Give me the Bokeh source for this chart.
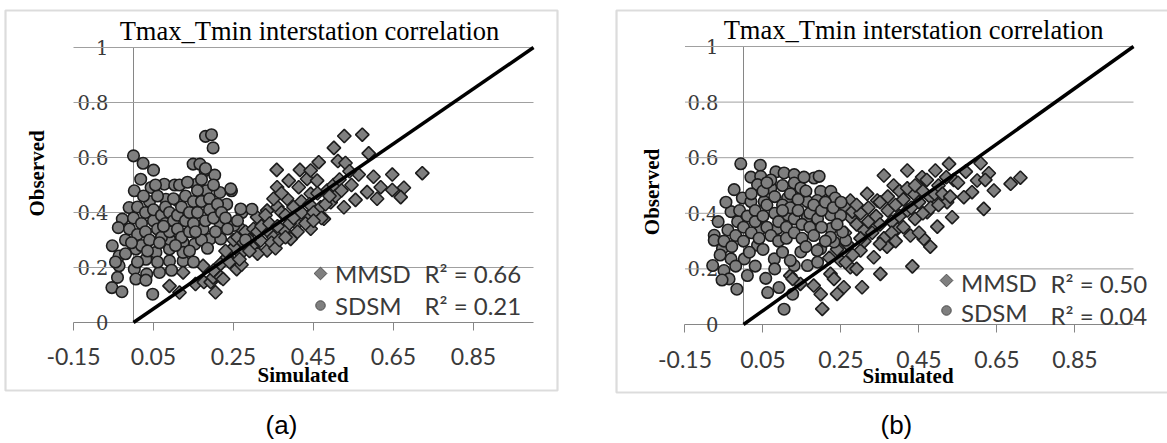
import numpy as np
from bokeh.plotting import figure
from bokeh.layouts import row
from bokeh.models import Range1d, LinearAxis, FixedTicker, Legend, LegendItem, BoxAnnotation
from bokeh.core.properties import value
from bokeh.embed import file_html
from bokeh.resources import INLINE

# ---------------- data ----------------
xticks = [-0.15, 0.05, 0.25, 0.45, 0.65, 0.85]
xtick_labels = ["-0.15", "0.05", "0.25", "0.45", "0.65", "0.85"]
yticks = [0, 0.2, 0.4, 0.6, 0.8, 1.0]
ytick_labels = ["0", "0.2", "0.4", "0.6", "0.8", "1"]
x_axis_span = [-0.15, 1.0]
title_text = "Tmax_Tmin interstation correlation"
x_title = "Simulated"
y_title = "Observed"
series_names = ["MMSD", "SDSM"]
r2_a = ["R\u00b2 = 0.66", "R\u00b2 = 0.21"]
r2_b = ["R\u00b2 = 0.50", "R\u00b2 = 0.04"]
panel_labels = ["(a)", "(b)"]
ref_line_x = [0, 1]
ref_line_y = [0, 1]

a_sdsm_x = [0.000,0.024,0.050,0.018,0.002,0.044,-0.011,-0.028,-0.038,-0.053,
            -0.036,-0.036,-0.040,-0.054,-0.029,0.002,0.006,0.033,0.031,0.065,
            0.048,0.090,0.124,0.077,0.103,0.081,0.111,0.149,0.166,0.179,
            0.203,0.157,0.182,0.216,0.245,0.233,0.271,0.296,0.216,0.174,
            0.191,0.153,0.124,0.124,0.090,0.090,0.056,0.031,0.006,0.180,
            0.195,0.199,0.243,0.268,0.251,0.218,-0.020,-0.010,0.000,0.010,
            0.010,0.020,0.020,0.030,0.030,0.040,0.040,0.050,0.050,0.060,
            0.060,0.070,0.070,0.080,0.080,0.090,0.090,0.100,0.100,0.110,
            0.110,0.120,0.120,0.130,0.130,0.140,0.140,0.150,0.150,0.160,
            0.160,0.170,0.170,0.180,0.180,0.190,0.190,0.200,0.200,0.210,
            0.220,0.230,0.025,-0.005,0.035,0.065,0.105,0.140,0.170,0.075,
            0.155,-0.045,-0.020,0.010,0.060,0.095,0.115,0.135,0.055,0.205,
            0.235,0.260,0.280,0.185,0.150]
a_sdsm_y = [0.606,0.579,0.554,0.521,0.479,0.491,0.418,0.376,0.345,0.279,
            0.242,0.206,0.164,0.127,0.112,0.194,0.158,0.176,0.154,0.182,
            0.103,0.224,0.224,0.503,0.500,0.448,0.442,0.576,0.576,0.552,
            0.536,0.503,0.479,0.473,0.479,0.430,0.400,0.412,0.364,0.339,
            0.303,0.285,0.291,0.255,0.267,0.303,0.255,0.230,0.267,0.677,
            0.683,0.635,0.486,0.413,0.353,0.304,0.300,0.340,0.380,0.420,
            0.320,0.360,0.280,0.400,0.330,0.440,0.300,0.370,0.410,0.340,
            0.460,0.390,0.310,0.420,0.360,0.330,0.400,0.370,0.450,0.340,
            0.390,0.420,0.310,0.370,0.460,0.400,0.330,0.440,0.360,0.480,
            0.400,0.520,0.440,0.370,0.560,0.450,0.410,0.380,0.500,0.430,
            0.400,0.380,0.460,0.290,0.260,0.290,0.280,0.260,0.300,0.350,
            0.330,0.220,0.250,0.220,0.220,0.190,0.500,0.510,0.500,0.330,
            0.340,0.370,0.300,0.270,0.220]

a_mmsd_x = [0.090,0.115,0.124,0.155,0.174,0.176,0.193,0.199,0.205,0.200,
            0.218,0.218,0.224,0.234,0.258,0.270,0.251,0.268,0.284,0.293,
            0.318,0.334,0.334,0.309,0.334,0.376,0.393,0.409,0.443,0.434,
            0.476,0.468,0.493,0.484,0.443,0.384,0.359,0.413,0.434,0.459,
            0.388,0.358,0.416,0.443,0.463,0.511,0.501,0.527,0.572,0.588,
            0.563,0.722,0.647,0.618,0.676,0.647,0.584,0.609,0.668,0.555,
            0.526,0.230,0.250,0.260,0.270,0.280,0.290,0.300,0.310,0.320,
            0.330,0.340,0.350,0.360,0.360,0.370,0.380,0.390,0.400,0.400,
            0.420,0.420,0.440,0.450,0.460,0.470,0.500,0.505,0.515,0.520,
            0.530,0.540,0.545,0.600,0.240,0.265,0.300,0.275,0.310,0.345,
            0.355,0.365,0.380,0.410,0.430,0.450,0.480,0.490,0.350,0.370,
            0.290]
a_mmsd_y = [0.133,0.109,0.182,0.140,0.206,0.147,0.147,0.164,0.110,0.189,
            0.165,0.213,0.158,0.237,0.194,0.210,0.274,0.250,0.280,0.328,
            0.298,0.262,0.335,0.383,0.407,0.335,0.304,0.359,0.341,0.383,
            0.377,0.419,0.437,0.480,0.468,0.450,0.492,0.492,0.522,0.516,
            0.516,0.555,0.555,0.553,0.583,0.587,0.635,0.678,0.683,0.615,
            0.538,0.543,0.538,0.492,0.490,0.482,0.474,0.450,0.456,0.446,
            0.419,0.260,0.300,0.310,0.340,0.330,0.300,0.340,0.330,0.350,
            0.390,0.360,0.310,0.420,0.350,0.400,0.390,0.360,0.420,0.380,
            0.440,0.400,0.430,0.400,0.470,0.380,0.500,0.460,0.520,0.480,
            0.580,0.550,0.500,0.530,0.220,0.230,0.270,0.290,0.250,0.290,
            0.270,0.300,0.310,0.330,0.360,0.370,0.430,0.460,0.450,0.470,
            0.260]

b_sdsm_x = [-0.007,0.043,0.019,0.044,0.083,0.104,0.130,0.130,0.181,0.194,
            -0.024,-0.003,-0.032,-0.015,-0.075,-0.075,-0.054,-0.079,-0.050,-0.037,
            -0.017,0.010,0.057,0.062,0.091,0.104,0.126,0.130,0.164,0.190,
            0.147,0.198,0.232,0.262,0.224,0.254,0.224,0.198,0.224,0.164,
            0.164,0.113,0.087,0.044,0.036,0.079,0.002,-0.032,0.019,0.053,
            0.036,0.070,0.113,0.147,0.235,0.189,0.249,0.223,0.189,-0.050,
            -0.040,-0.030,-0.020,-0.010,0.000,0.000,0.010,0.020,0.020,0.030,
            0.030,0.040,0.050,0.050,0.060,0.060,0.070,0.070,0.080,0.080,
            0.090,0.090,0.100,0.100,0.110,0.110,0.120,0.120,0.130,0.130,
            0.140,0.140,0.150,0.150,0.160,0.170,0.170,0.180,0.180,0.190,
            0.200,0.200,0.210,0.210,0.230,0.240,0.250,-0.060,-0.065,-0.045,
            -0.020,0.030,0.050,0.100,0.120,0.080,0.015,-0.055,0.160,0.060,
            0.155,0.100]
b_sdsm_y = [0.578,0.573,0.530,0.533,0.549,0.545,0.539,0.509,0.527,0.533,
            0.485,0.455,0.406,0.370,0.321,0.303,0.273,0.212,0.194,0.164,
            0.127,0.176,0.166,0.115,0.133,0.055,0.109,0.212,0.212,0.224,
            0.261,0.273,0.297,0.303,0.345,0.333,0.394,0.479,0.479,0.442,
            0.388,0.394,0.345,0.345,0.285,0.236,0.236,0.236,0.442,0.442,
            0.503,0.491,0.455,0.491,0.455,0.446,0.392,0.314,0.266,0.300,
            0.340,0.280,0.320,0.410,0.350,0.300,0.390,0.330,0.470,0.410,
            0.370,0.310,0.390,0.480,0.350,0.430,0.320,0.520,0.400,0.460,
            0.370,0.300,0.430,0.500,0.350,0.310,0.420,0.470,0.380,0.330,
            0.450,0.410,0.360,0.310,0.480,0.400,0.350,0.430,0.320,0.380,
            0.410,0.350,0.440,0.300,0.420,0.360,0.440,0.250,0.370,0.440,
            0.210,0.210,0.270,0.260,0.230,0.200,0.260,0.160,0.280,0.510,
            0.530,0.410]

b_mmsd_x = [0.527,0.608,0.629,0.492,0.420,0.360,0.458,0.539,0.599,0.685,
            0.710,0.642,0.616,0.586,0.565,0.522,0.535,0.479,0.437,0.385,
            0.420,0.471,0.497,0.479,0.462,0.428,0.433,0.394,0.368,0.351,
            0.334,0.300,0.309,0.274,0.274,0.317,0.343,0.266,0.249,0.274,
            0.223,0.257,0.304,0.202,0.180,0.146,0.120,0.262,0.279,0.262,
            0.290,0.232,0.240,0.198,0.126,0.290,0.300,0.310,0.320,0.320,
            0.330,0.340,0.350,0.350,0.360,0.370,0.370,0.380,0.380,0.390,
            0.400,0.400,0.410,0.410,0.420,0.430,0.440,0.440,0.450,0.460,
            0.460,0.470,0.480,0.490,0.500,0.500,0.510,0.520,0.550,0.570,
            0.620,0.300,0.260,0.240,0.220,0.280,0.350,0.390,0.450,0.530,
            0.290]
b_mmsd_y = [0.578,0.580,0.544,0.554,0.554,0.536,0.530,0.520,0.518,0.506,
            0.528,0.482,0.416,0.476,0.458,0.440,0.386,0.458,0.470,0.500,
            0.410,0.404,0.352,0.280,0.308,0.320,0.209,0.344,0.280,0.182,
            0.242,0.266,0.338,0.386,0.446,0.470,0.446,0.290,0.230,0.206,
            0.182,0.134,0.134,0.056,0.140,0.146,0.176,0.420,0.406,0.224,
            0.200,0.164,0.110,0.109,0.164,0.360,0.400,0.300,0.420,0.370,
            0.330,0.390,0.440,0.360,0.310,0.410,0.460,0.370,0.330,0.430,
            0.390,0.480,0.350,0.450,0.490,0.420,0.380,0.500,0.440,0.400,
            0.480,0.520,0.420,0.470,0.500,0.430,0.470,0.530,0.510,0.550,
            0.520,0.310,0.330,0.270,0.240,0.250,0.290,0.300,0.330,0.460,
            0.430]

# ---------------- styling ----------------
GRID = "#a0a0a0"
AXIS = "#868686"
FILL = "#7f7f7f"
EDGE = "#1c1c1c"
TXT = "#3a3a3a"
H = 443


def make_panel(width, xr, yr, mx, my, sx, sy, r2, lay, plabel):
    p = figure(width=width, height=H, x_range=Range1d(*xr), y_range=Range1d(*yr),
               output_backend="svg", toolbar_location=None,
               x_axis_type=None, y_axis_type=None)
    p.min_border_left = 0
    p.min_border_right = 0
    p.min_border_top = 0
    p.min_border_bottom = 0
    p.outline_line_color = None
    p.background_fill_color = "white"
    p.border_fill_color = "white"

    # panel frame
    l, r, b, t = lay["box"]
    p.add_layout(BoxAnnotation(left=l, right=r, bottom=b, top=t, fill_alpha=0,
                               fill_color=None, line_color="#8a8a8a", line_width=2.2))

    # horizontal gridlines
    gy = yticks[1:]
    p.segment(x0=[x_axis_span[0]] * len(gy), x1=[x_axis_span[1]] * len(gy),
              y0=gy, y1=gy, line_color=GRID, line_width=1)

    # axes crossing at 0
    xa = LinearAxis(fixed_location=0, bounds=tuple(x_axis_span),
                    ticker=FixedTicker(ticks=xticks),
                    major_label_overrides=dict(zip(xticks, xtick_labels)))
    xa.axis_line_color = AXIS
    xa.major_tick_line_color = AXIS
    xa.major_tick_out = 8
    xa.major_tick_in = 0
    xa.minor_tick_line_color = None
    xa.major_label_text_font = "Lato"
    xa.major_label_text_font_size = "23px"
    xa.major_label_text_color = TXT
    xa.major_label_standoff = lay["xstand"]
    xa.level = "underlay"
    p.add_layout(xa, "below")

    ya = LinearAxis(fixed_location=0, bounds=(0, 1),
                    ticker=FixedTicker(ticks=yticks),
                    major_label_overrides=dict(zip(yticks, ytick_labels)))
    ya.axis_line_color = AXIS
    ya.major_tick_line_color = None
    ya.major_tick_out = 0
    ya.major_tick_in = 0
    ya.minor_tick_line_color = None
    ya.major_label_text_font = "DejaVu Serif"
    ya.major_label_text_font_size = "19.5px"
    ya.major_label_text_color = TXT
    ya.major_label_standoff = 25
    ya.level = "underlay"
    p.add_layout(ya, "left")

    # series
    p.scatter(mx, my, marker="square", angle=np.pi / 4, size=9.5,
              fill_color=FILL, line_color=EDGE, line_width=1.6)
    p.scatter(sx, sy, marker="circle", size=11.5,
              fill_color=FILL, line_color=EDGE, line_width=1.6)

    # 1:1 line
    p.line(ref_line_x, ref_line_y, line_color="black", line_width=3.5)

    # texts
    tx, ty = lay["title"]
    p.text(x=[tx], y=[ty], text=[title_text], text_font=value("Liberation Serif"),
           text_font_size="26.5px", text_align="center", text_baseline="middle",
           text_color="black")
    sxp, syp = lay["xt"]
    p.text(x=[sxp], y=[syp], text=[x_title], text_font=value("Liberation Serif"),
           text_font_style="bold", text_font_size="21px", text_align="center",
           text_baseline="middle", text_color="black")
    oxp, oyp = lay["yt"]
    p.text(x=[oxp], y=[oyp], text=[y_title], text_font=value("Liberation Serif"),
           text_font_style="bold", text_font_size="21px", text_align="center",
           text_baseline="middle", angle=np.pi / 2, text_color="black")
    rx, ry = lay["r2"]
    p.text(x=[rx, rx], y=ry, text=r2, text_font=value("Lato"), text_font_size="24px",
           text_align="left", text_baseline="middle", text_color=TXT)
    lx, ly = lay["plabel"]
    p.text(x=[lx], y=[ly], text=[plabel], text_font=value("Liberation Sans"),
           text_font_size="26px", text_align="center", text_baseline="middle",
           text_color="black")

    # legend: invisible proxies (Bokeh legend keys ignore marker angle),
    # with the visible keys drawn on top at the key positions
    pm = p.scatter(x=[], y=[], marker="square", fill_alpha=0, line_alpha=0)
    ps = p.scatter(x=[], y=[], marker="circle", fill_alpha=0, line_alpha=0)
    leg = Legend(items=[LegendItem(label=series_names[0], renderers=[pm]),
                        LegendItem(label=series_names[1], renderers=[ps])],
                 location=lay["legend"], orientation="vertical",
                 glyph_width=24, glyph_height=30, label_height=30,
                 spacing=lay["lspace"], padding=0, margin=0, label_standoff=3,
                 border_line_alpha=0, background_fill_alpha=0,
                 label_text_font="Lato", label_text_font_size="24px",
                 label_text_color=TXT)
    p.add_layout(leg)
    kx, ky = lay["keys"]
    p.scatter([kx], [ky[0]], marker="square", angle=np.pi / 4, size=9,
              fill_color=FILL, line_color="#4a4a4a", line_width=1)
    p.scatter([kx], [ky[1]], marker="circle", size=9.5,
              fill_color=FILL, line_color="#4a4a4a", line_width=1)
    return p


lay_a = dict(box=(-0.32, 1.06, -0.2473, 1.1345), title=(0.44, 1.0618),
             xt=(0.424, -0.1927), yt=(-0.241, 0.542), r2=(0.7275, [0.178, 0.0618]),
             plabel=(0.37, -0.3745), legend=(308, 123), lspace=2, xstand=17,
             keys=(0.4675, [0.1782, 0.0618]))
lay_b = dict(box=(-0.3256, 1.3, -0.2446, 1.1295), title=(0.436, 1.0576),
             xt=(0.422, -0.1853), yt=(-0.2346, 0.4766), r2=(0.787, [0.1475, 0.0324]),
             plabel=(0.392, -0.3633), legend=(326, 116), lspace=0, xstand=19,
             keys=(0.5205, [0.1583, 0.0504]))

p1 = make_panel(608, (-0.3325, 1.1875), (-0.44, 1.17091),
                a_mmsd_x, a_mmsd_y, a_sdsm_x, a_sdsm_y, r2_a, lay_a, panel_labels[0])
p2 = make_panel(559, (-0.34615, 1.08718), (-0.42806, 1.16547),
                b_mmsd_x, b_mmsd_y, b_sdsm_x, b_sdsm_y, r2_b, lay_b, panel_labels[1])

layout = row(p1, p2)
open("out.html", "w").write(file_html(layout, INLINE))
